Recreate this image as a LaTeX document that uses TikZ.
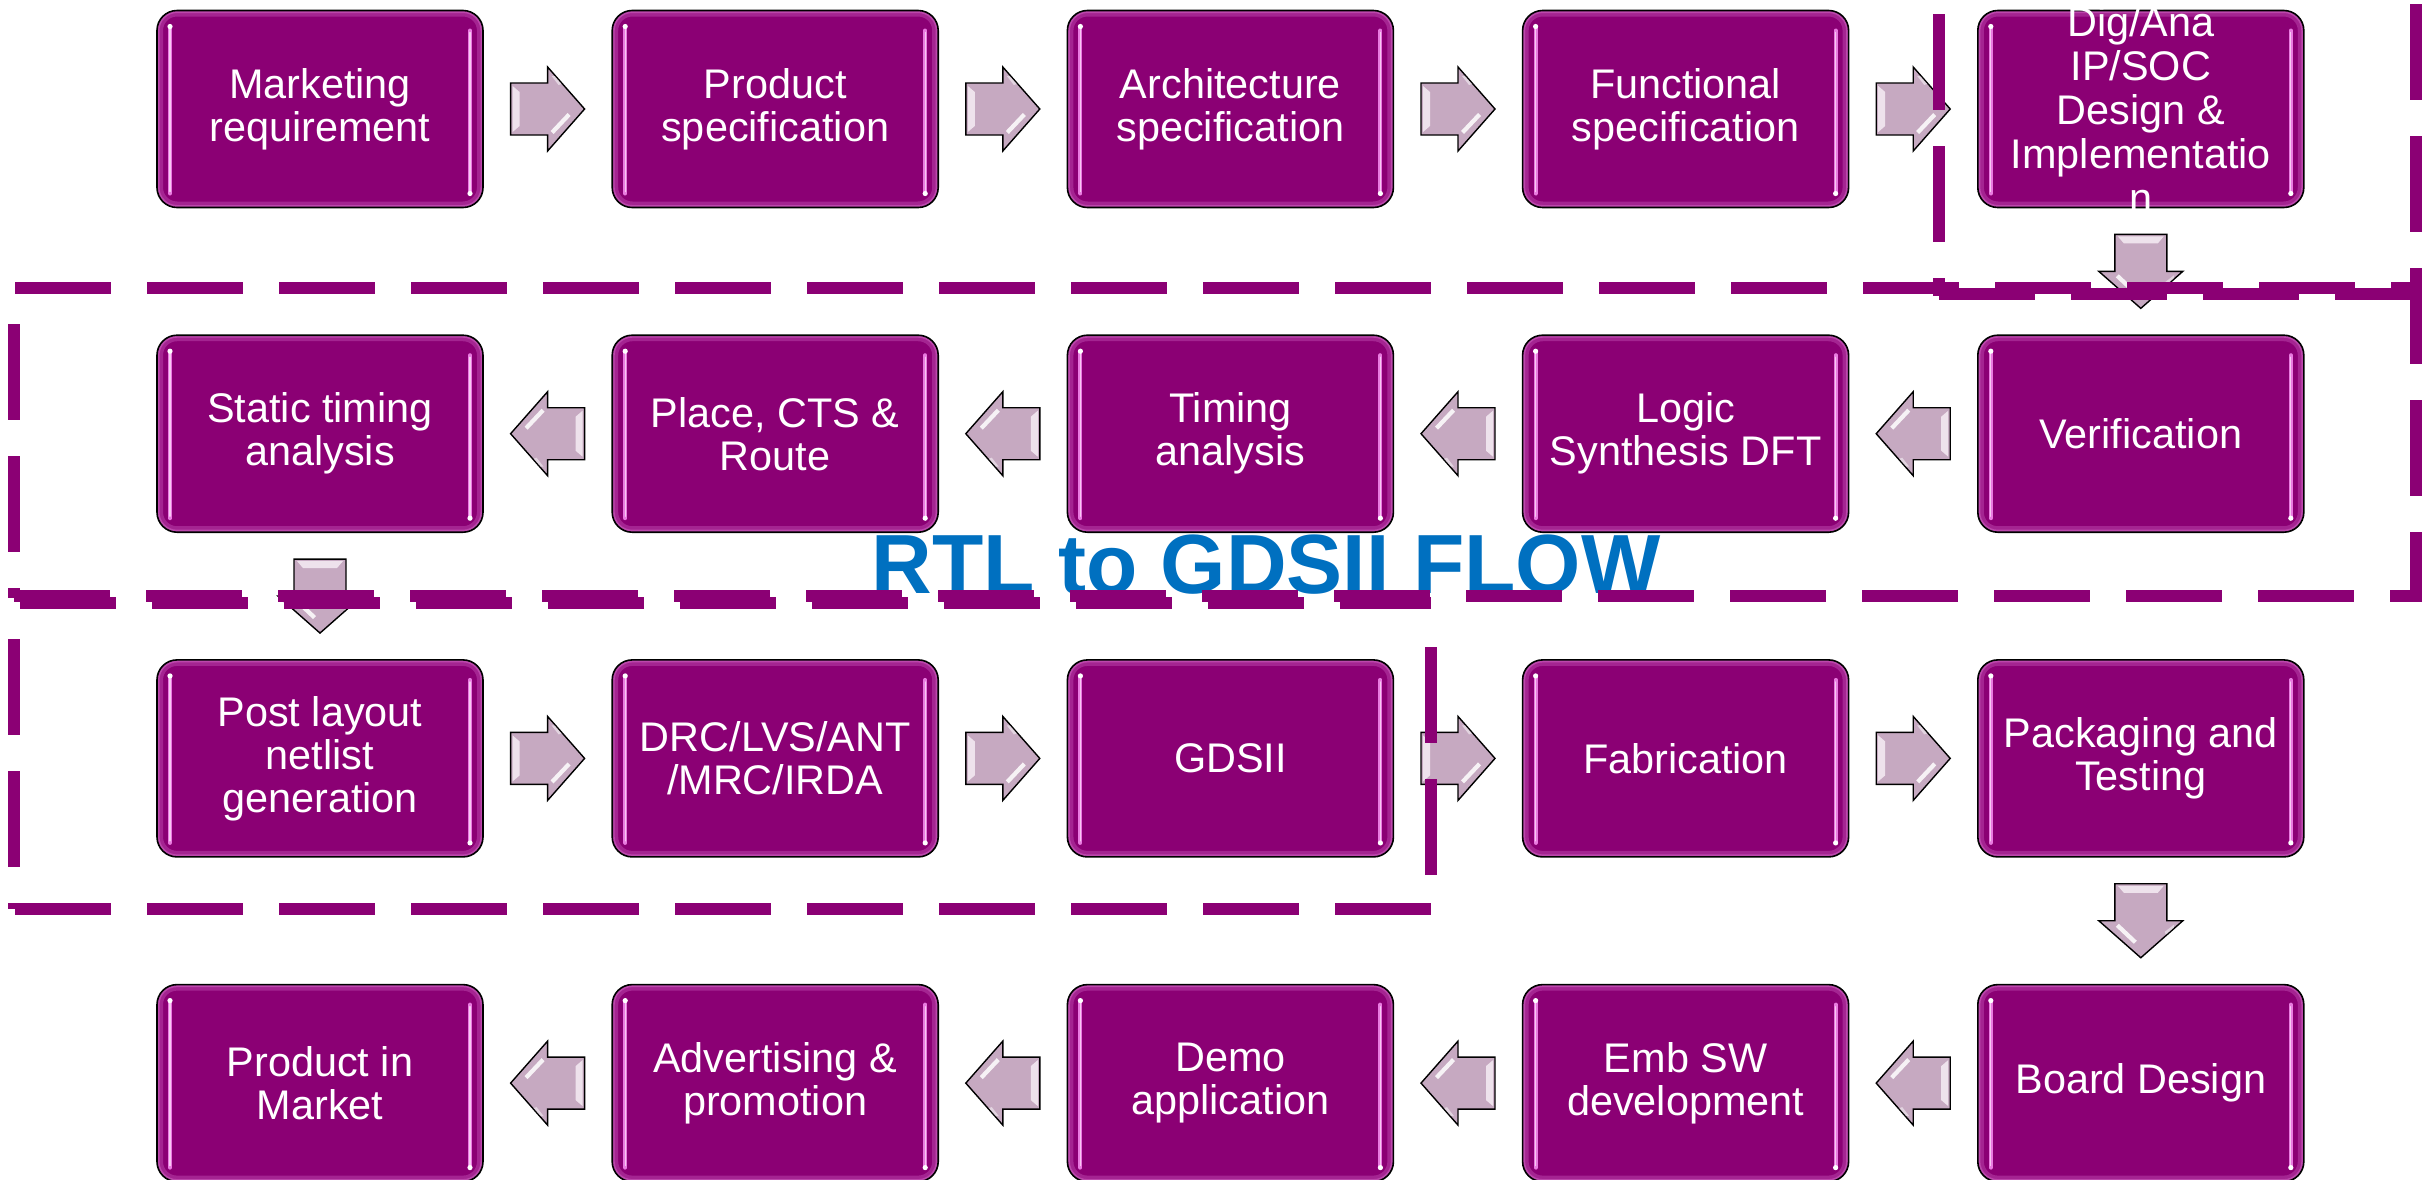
\documentclass[tikz,border=0pt]{standalone}
\usepackage{fontspec}
\setmainfont{Liberation Sans}
\usetikzlibrary{calc}
\definecolor{boxpurple}{HTML}{8B0074}
\definecolor{dashpurple}{HTML}{8B0074}
\definecolor{arrowfill}{HTML}{C6A9C1}
\definecolor{arrowlight}{HTML}{EEE2EC}
\definecolor{titleblue}{HTML}{0070C0}
\definecolor{glowpink}{HTML}{D46AC8}
\definecolor{hlpink}{HTML}{E97BE0}
\tikzset{
  boxbase/.style={rectangle, rounded corners=10pt, draw=black, line width=0.8pt, fill=boxpurple,
    minimum width=163pt, minimum height=98.5pt, inner sep=0pt, text=white, align=center,
    font=\fontsize{20.7}{21.5}\selectfont,
    path picture={
      \draw[glowpink, opacity=0.35, line width=6pt, rounded corners=10pt]
        (path picture bounding box.south west) rectangle (path picture bounding box.north east);
      \draw[glowpink, opacity=0.5, line width=2.5pt, rounded corners=10pt]
        (path picture bounding box.south west) rectangle (path picture bounding box.north east);
      \draw[hlpink, line width=2pt, line cap=round]
        ([xshift=6.5pt,yshift=-8pt]path picture bounding box.north west) --
        ([xshift=6.5pt,yshift=7pt]path picture bounding box.south west);
      \draw[white, opacity=0.6, line width=0.6pt, line cap=round]
        ([xshift=6.5pt,yshift=-9pt]path picture bounding box.north west) --
        ([xshift=6.5pt,yshift=8pt]path picture bounding box.south west);
      \fill[white] ([xshift=6.5pt,yshift=-8pt]path picture bounding box.north west) circle (1.3pt);
      \draw[hlpink, line width=2pt, line cap=round]
        ([xshift=-6.5pt,yshift=-10pt]path picture bounding box.north east) --
        ([xshift=-6.5pt,yshift=7pt]path picture bounding box.south east);
      \draw[white, opacity=0.6, line width=0.6pt, line cap=round]
        ([xshift=-6.5pt,yshift=-11pt]path picture bounding box.north east) --
        ([xshift=-6.5pt,yshift=8pt]path picture bounding box.south east);
      \fill[white] ([xshift=-6.5pt,yshift=7pt]path picture bounding box.south east) circle (1.3pt);
    }},
  boxtext/.style={text=white, align=center, inner sep=0pt, font=\fontsize{20.7}{22}\selectfont},
  titletext/.style={text=titleblue, inner sep=0pt, anchor=base, font=\fontsize{42}{42}\selectfont\bfseries},
  dline/.style={dashpurple, line width=6pt, dash pattern=on 48pt off 18pt},
  barrow/.pic={
    \draw[fill=arrowfill, draw=black, line width=0.7pt, line join=miter]
      (-37,-26) -- (0,-26) -- (0,-42) -- (37,0) -- (0,42) -- (0,26) -- (-37,26) -- cycle;
    \fill[arrowlight] (-35,-23) -- (-28,-17) -- (-28,17) -- (-35,23) -- cycle;
    \fill[white, opacity=0.85] (3,22) -- (20,4) -- (23,7) -- (6,25) -- cycle;
    \fill[white, opacity=0.5] (4,-33) -- (7,-33) -- (14,-25) -- (11,-24) -- cycle;
  }
}
\begin{document}
\begin{tikzpicture}[x=0.5pt, y=-0.5pt]
\useasboundingbox (0,0) rectangle (2436,1179);
\fill[white] (0,0) rectangle (2436,1179);

% row 1
\node[boxbase] (b11) at (320,109) {Marketing\\requirement};
\node[boxbase] (b12) at (775.2,109) {Product\\specification};
\node[boxbase] (b13) at (1230.4,109) {Architecture\\specification};
\node[boxbase] (b14) at (1685.6,109) {Functional\\specification};
\node[boxbase] (b15) at (2140.8,109) {};
\node[boxtext] (t15) at (b15.center) {Dig/Ana\\IP/SOC\\Design \&\\Implementatio\\n};
% row 2
\node[boxbase] (b21) at (320,433.7) {Static timing\\analysis};
\node[boxbase] (b22) at (775.2,433.7) {Place, CTS \&\\Route};
\node[boxbase] (b23) at (1230.4,433.7) {Timing\\analysis};
\node[boxbase] (b24) at (1685.6,433.7) {Logic\\Synthesis DFT};
\node[boxbase] (b25) at (2140.8,433.7) {Verification};
% row 3
\node[boxbase] (b31) at (320,758.4) {Post layout\\netlist\\generation};
\node[boxbase] (b32) at (775.2,758.4) {DRC/LVS/ANT\\/MRC/IRDA};
\node[boxbase] (b33) at (1230.4,758.4) {GDSII};
\node[boxbase] (b34) at (1685.6,758.4) {Fabrication};
\node[boxbase] (b35) at (2140.8,758.4) {Packaging and\\Testing};
% row 4
\node[boxbase] (b41) at (320,1083.1) {Product in\\Market};
\node[boxbase] (b42) at (775.2,1083.1) {Advertising \&\\promotion};
\node[boxbase] (b43) at (1230.4,1083.1) {Demo\\application};
\node[boxbase] (b44) at (1685.6,1083.1) {Emb SW\\development};
\node[boxbase] (b45) at (2140.8,1083.1) {Board Design};

% arrows row 1 (right)
\pic at ($(b11.east)!0.5!(b12.west)$) {barrow};
\pic at ($(b12.east)!0.5!(b13.west)$) {barrow};
\pic at ($(b13.east)!0.5!(b14.west)$) {barrow};
\pic at ($(b14.east)!0.5!(b15.west)$) {barrow};
% down
\pic[rotate=-90] at ($(b15.south)!0.5!(b25.north)$) {barrow};
% row 2 (left)
\pic[rotate=180] at ($(b25.west)!0.5!(b24.east)$) {barrow};
\pic[rotate=180] at ($(b24.west)!0.5!(b23.east)$) {barrow};
\pic[rotate=180] at ($(b23.west)!0.5!(b22.east)$) {barrow};
\pic[rotate=180] at ($(b22.west)!0.5!(b21.east)$) {barrow};
% down
\pic[rotate=-90] at ($(b21.south)!0.5!(b31.north)$) {barrow};
% row 3 (right)
\pic at ($(b31.east)!0.5!(b32.west)$) {barrow};
\pic at ($(b32.east)!0.5!(b33.west)$) {barrow};
\pic at ($(b33.east)!0.5!(b34.west)$) {barrow};
\pic at ($(b34.east)!0.5!(b35.west)$) {barrow};
% down
\pic[rotate=-90] at ($(b35.south)!0.5!(b45.north)$) {barrow};
% row 4 (left)
\pic[rotate=180] at ($(b45.west)!0.5!(b44.east)$) {barrow};
\pic[rotate=180] at ($(b44.west)!0.5!(b43.east)$) {barrow};
\pic[rotate=180] at ($(b43.west)!0.5!(b42.east)$) {barrow};
\pic[rotate=180] at ($(b42.west)!0.5!(b41.east)$) {barrow};

% title
\node[titletext] (title) at (1266,593) {RTL to GDSII FLOW};

% dashed frames
\draw[dline] (15,288) -- (2416,288);
\draw[dline] (1939,294) -- (2416,294);
\draw[dline] (1939,14) -- (1939,296);
\draw[dline] (2416,4) -- (2416,602);
\draw[dline, dash phase=48pt] (14,288) -- (14,598);
\draw[dline] (14,596) -- (2416,596);
\draw[dline] (20,603) -- (1431,603);
\draw[dline, dash phase=48pt] (14,603) -- (14,909);
\draw[dline, dash phase=48pt] (1431,611) -- (1431,909);
\draw[dline] (15,909) -- (1431,909);
\end{tikzpicture}
\end{document}
